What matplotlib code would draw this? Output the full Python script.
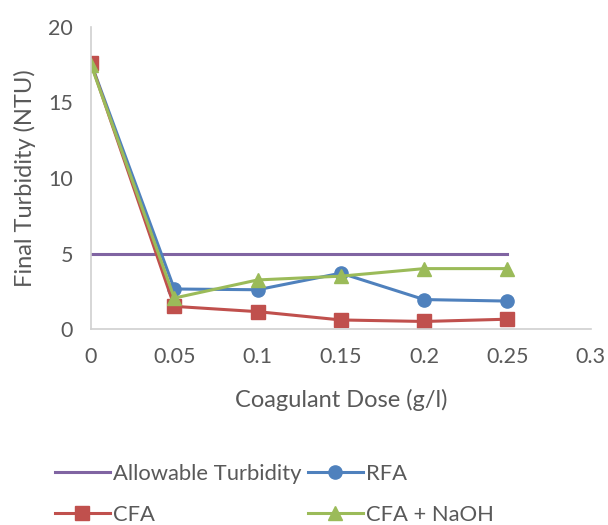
import matplotlib
matplotlib.use("Agg")
import matplotlib.pyplot as plt

dose = [0, 0.05, 0.1, 0.15, 0.2, 0.25]
allowable = [5, 5, 5, 5, 5, 5]
rfa = [17.6, 2.65, 2.6, 3.7, 1.95, 1.85]
cfa = [17.6, 1.5, 1.15, 0.6, 0.5, 0.65]
cfa_naoh = [17.5, 2.05, 3.25, 3.5, 4.0, 4.0]

xticks = [0, 0.05, 0.1, 0.15, 0.2, 0.25, 0.3]
xticklabels = ["0", "0.05", "0.1", "0.15", "0.2", "0.25", "0.3"]
yticks = [0, 5, 10, 15, 20]

plt.rcParams["font.family"] = ["Lato", "DejaVu Sans"]
txt = "#595959"

fig = plt.figure(figsize=(6.08, 5.25), dpi=100)
ax = fig.add_axes([0.1497, 0.3733, 0.822, 0.5753])

l_allow, = ax.plot(dose, allowable, color="#8064A2", lw=2.2, label="Allowable Turbidity")
l_rfa, = ax.plot(dose, rfa, color="#4F81BD", lw=2.2, marker="o", ms=9.5, label="RFA")
l_cfa, = ax.plot(dose, cfa, color="#C0504D", lw=2.2, marker="s", ms=9.5, label="CFA")
l_naoh, = ax.plot(dose, cfa_naoh, color="#9BBB59", lw=2.2, marker="^", ms=10.5, label="CFA + NaOH")

ax.set_xlim(0, 0.3)
ax.set_ylim(0, 20)
ax.set_xticks(xticks)
ax.set_xticklabels(xticklabels)
ax.set_yticks(yticks)
ax.tick_params(length=0, labelsize=15.5, colors=txt, pad=13)
for s in ["top", "right"]:
    ax.spines[s].set_visible(False)
for s in ["left", "bottom"]:
    ax.spines[s].set_color("#D0D0D0")
    ax.spines[s].set_linewidth(1.2)

ax.set_xlabel("Coagulant Dose (g/l)", fontsize=17, color=txt, labelpad=16)
ax.set_ylabel("Final Turbidity (NTU)", fontsize=17, color=txt, labelpad=9)

fig.legend(handles=[l_allow, l_cfa, l_rfa, l_naoh], ncol=2, loc="center left",
           bbox_to_anchor=(0.09, 0.058), frameon=False, fontsize=15.8,
           labelcolor=txt, handlelength=2.5, handletextpad=0.15, columnspacing=0.3,
           labelspacing=0.95, borderaxespad=0.0, borderpad=0.0)

fig.savefig("out.png", dpi=100)
